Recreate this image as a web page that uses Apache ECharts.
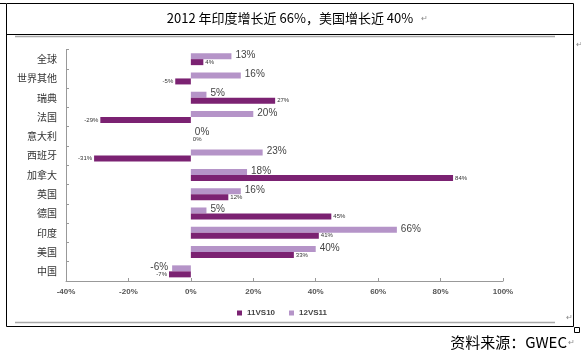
<!DOCTYPE html>
<html><head><meta charset="utf-8">
<script src="https://cdn.jsdelivr.net/npm/echarts@6/dist/echarts.min.js"></script>
<style>html,body{margin:0;padding:0;background:#fff}#c{width:581px;height:357px}</style>
</head><body><div id="c"></div>
<script>
var categories = ['全球','世界其他','瑞典','法国','意大利','西班牙','加拿大','英国','德国','印度','美国','中国'];
var s11vs10 = [4, -5, 27, -29, 0, -31, 84, 12, 45, 41, 33, -7];
var s12vs11 = [13, 16, 5, 20, 0, 23, 18, 16, 5, 66, 40, -6];
var xTicks = [-40, -20, 0, 20, 40, 60, 80, 100];

var DARK = '#7b2272', LIGHT = '#b594c8';
function mk(arr){
  return arr.map(function(v){
    return {value: v, label: {position: v < 0 ? 'left' : 'right'}};
  });
}
var chart = echarts.init(document.getElementById('c'), null, {renderer:'canvas'});
chart.setOption({
  animation:false,
  backgroundColor:'#fff',
  grid:{left:66, right:78, top:49.5, bottom:76, containLabel:false},
  xAxis:{type:'value', min:xTicks[0], max:xTicks[xTicks.length-1], interval:20,
    axisLine:{show:true, lineStyle:{color:'#999'}},
    axisTick:{show:true, inside:true, length:3, lineStyle:{color:'#999'}},
    splitLine:{show:false},
    axisLabel:{formatter:'{value}%', fontSize:8, fontWeight:'bold', color:'#555', fontFamily:'Liberation Sans', margin:7}},
  yAxis:{type:'category', data:categories, inverse:true,
    axisLine:{show:true, onZero:false, lineStyle:{color:'#999'}},
    axisTick:{show:true, inside:true, length:3, lineStyle:{color:'#999'}},
    axisLabel:{fontSize:10, color:'#333', fontFamily:'Noto Sans CJK SC', margin:9},
    z:0},
  legend:{data:['11VS10','12VS11'], left:232, top:304, itemWidth:5, itemHeight:5, itemGap:14,
    icon:'rect', textStyle:{fontSize:8, fontWeight:'bold', color:'#444', fontFamily:'Liberation Sans'}},
  series:[
    {name:'12VS11', type:'bar', data:mk(s12vs11), barWidth:6, barGap:'0%',
      itemStyle:{color:LIGHT}, z:3,
      label:{show:true, formatter:'{c}%', fontSize:10, color:'#444', distance:4, fontFamily:'Liberation Sans', offset:[0,-1]}},
    {name:'11VS10', type:'bar', data:mk(s11vs10), barWidth:6, barGap:'0%',
      itemStyle:{color:DARK}, z:3,
      label:{show:true, formatter:'{c}%', fontSize:6, color:'#333', distance:2, fontFamily:'Liberation Sans'}}
  ],
  graphic:[
    {type:'rect', shape:{x:6.5, y:3.5, width:567, height:323}, style:{fill:null, stroke:'#000', lineWidth:1}, silent:true},
    {type:'line', shape:{x1:0, y1:3.5, x2:6, y2:3.5}, style:{stroke:'#000', lineWidth:1}},
    {type:'line', shape:{x1:6, y1:34.5, x2:574, y2:34.5}, style:{stroke:'#000', lineWidth:1}},
    {type:'line', shape:{x1:15, y1:36.5, x2:555, y2:36.5}, style:{stroke:'#a8a8a8', lineWidth:1.5}},
    {type:'line', shape:{x1:15, y1:322.5, x2:555, y2:322.5}, style:{stroke:'#a8a8a8', lineWidth:1.5}},
    {type:'rect', shape:{x:574.5, y:327.5, width:5, height:5}, style:{fill:'#fff', stroke:'#000', lineWidth:1}},
    {type:'text', x:290, y:18, style:{text:'2012 年印度增长近 66%，美国增长近 40%', fontSize:13, fill:'#000', fontFamily:'Noto Sans CJK SC', align:'center', verticalAlign:'middle'}},
    {type:'text', x:421, y:19, style:{text:'↵', fontSize:8, fill:'#888', verticalAlign:'middle'}},
    {type:'text', x:576, y:45, style:{text:'↵', fontSize:8, fill:'#888', verticalAlign:'middle'}},
    {type:'text', x:566, y:318, style:{text:'↵', fontSize:8, fill:'#888', verticalAlign:'middle'}},
    {type:'text', x:567, y:342, style:{text:'资料来源：GWEC', fontSize:15, fill:'#000', fontFamily:'Noto Sans CJK SC', align:'right', verticalAlign:'middle'}},
    {type:'text', x:568, y:343, style:{text:'↵', fontSize:8, fill:'#888', verticalAlign:'middle'}}
  ]
});
</script></body></html>
